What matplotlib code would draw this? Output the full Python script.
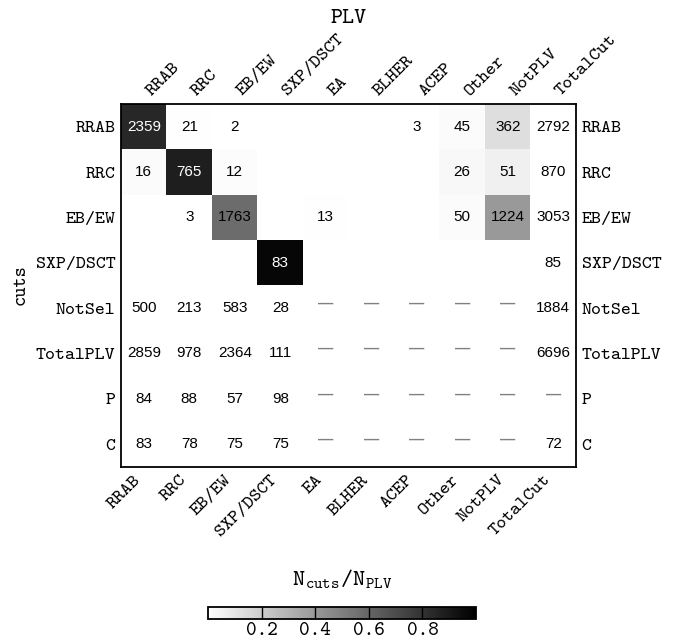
import numpy as np
import matplotlib
matplotlib.use("Agg")
import matplotlib.pyplot as plt

plt.rcParams['font.family'] = ['cmtt10', 'DejaVu Sans']
plt.rcParams['mathtext.fontset'] = 'custom'
plt.rcParams['mathtext.rm'] = 'cmtt10'
plt.rcParams['mathtext.it'] = 'cmtt10'
plt.rcParams['axes.unicode_minus'] = False

cols = ['RRAB', 'RRC', 'EB/EW', 'SXP/DSCT', 'EA', 'BLHER', 'ACEP', 'Other', 'NotPLV', 'TotalCut']
rows = ['RRAB', 'RRC', 'EB/EW', 'SXP/DSCT', 'NotSel', 'TotalPLV', 'P', 'C']

# 0 -> empty cell, None -> dash
D = None
counts = [
    [2359, 21, 2, 0, 0, 0, 3, 45, 362, 2792],
    [16, 765, 12, 0, 0, 0, 0, 26, 51, 870],
    [0, 3, 1763, 0, 13, 0, 0, 50, 1224, 3053],
    [0, 0, 0, 83, 0, 0, 0, 0, 0, 85],
    [500, 213, 583, 28, D, D, D, D, D, 1884],
    [2859, 978, 2364, 111, D, D, D, D, D, 6696],
    [84, 88, 57, 98, D, D, D, D, D, D],
    [83, 78, 75, 75, D, D, D, D, D, 72],
]

nr, nc = len(rows), len(cols)
# fraction of each class row (N_cuts / N_PLV), only for the class block
frac = np.full((nr, nc), np.nan)
for i in range(4):
    for j in range(nc - 1):
        frac[i, j] = counts[i][j] / counts[i][-1]

fig = plt.figure(figsize=(6.8, 6.43), dpi=100)
ax = fig.add_axes([0.178, 0.274, 0.669, 0.564])
im = ax.imshow(np.ma.masked_invalid(frac), cmap='gray_r', vmin=0, vmax=1, aspect='auto')

for i in range(nr):
    for j in range(nc):
        v = counts[i][j]
        if v is None:
            ax.text(j, i - 0.1, '\u2014', ha='center', va='center', color='#808080',
                    fontsize=11, family='Liberation Sans', fontweight='bold')
        elif v != 0:
            c = 'white' if (not np.isnan(frac[i, j]) and frac[i, j] > 0.7) else 'black'
            ax.text(j, i, str(v), ha='center', va='center', color=c,
                    fontsize=11, family='Liberation Sans')

ax.set_xticks(range(nc))
ax.set_yticks(range(nr))
ax.set_xticklabels(cols, fontsize=13.7)
ax.set_yticklabels(rows, fontsize=13.7)
ax.tick_params(length=0, top=True, labeltop=True, bottom=True, labelbottom=True,
               left=True, labelleft=True, right=True, labelright=True, pad=4)
for t in ax.xaxis.get_major_ticks():
    t.label1.set_rotation(45)
    t.label1.set_ha('right')
    t.label2.set_rotation(45)
    t.label2.set_ha('left')
    t.label2.set_fontsize(13.7)
for t in ax.yaxis.get_major_ticks():
    t.label2.set_fontsize(13.7)
for s in ax.spines.values():
    s.set_linewidth(1.3)

fig.text(0.5125, 0.972, 'PLV', fontsize=16.5, ha='center', va='center')
fig.text(0.03, 0.557, 'cuts', fontsize=14, rotation=90, ha='center', va='center')

cax = fig.add_axes([0.306, 0.037, 0.394, 0.019])
cb = fig.colorbar(im, cax=cax, orientation='horizontal', ticks=[0.2, 0.4, 0.6, 0.8])
cb.ax.tick_params(direction='in', length=9, width=1, labelsize=14.5, pad=2)
cb.outline.set_linewidth(1.3)
cb.ax.set_title(r'$\mathrm{N_{cuts}/N_{PLV}}$', fontsize=16.5, pad=16)

fig.savefig('out.png', dpi=100)
